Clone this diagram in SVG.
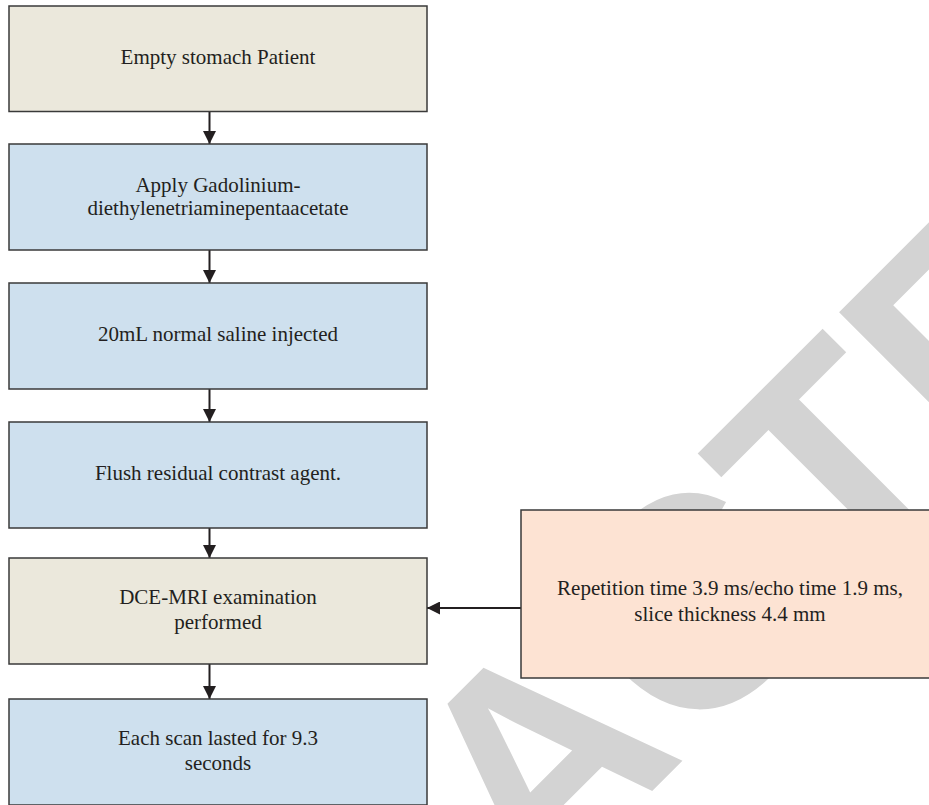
<svg xmlns="http://www.w3.org/2000/svg" width="929" height="805" viewBox="0 0 929 805">
<style>
.box{stroke:#3a3a3a;stroke-width:1.5}
.beige{fill:#ebe8dc}
.blue{fill:#cee0ee}
.peach{fill:#fde3d3}
.lbl{font-family:"Liberation Serif","Times New Roman",serif;font-size:21px;fill:#231f20;text-anchor:middle}
.wm{font-family:"Liberation Sans",Arial,sans-serif;font-weight:bold;font-size:300px;fill:#d3d3d3}
.conn{stroke:#231f20;stroke-width:2;fill:none}
</style>
<defs>
<marker id="ah" viewBox="0 0 13 13" refX="13" refY="6.5" markerWidth="13" markerHeight="13" markerUnits="userSpaceOnUse" orient="auto">
<path d="M0,0 L13,6.5 L0,13 Z" fill="#231f20"/>
</marker>
</defs>
<rect width="929" height="805" fill="#ffffff"/>
<g id="watermark">
<text class="wm" x="0" y="0" transform="translate(-42.6,1485.8) rotate(-45)">RETRACTED</text>
</g>
<g id="connectors">
<line class="conn" x1="209.5" y1="111.5" x2="209.5" y2="144" marker-end="url(#ah)"/>
<line class="conn" x1="209.5" y1="250" x2="209.5" y2="283" marker-end="url(#ah)"/>
<line class="conn" x1="209.5" y1="389" x2="209.5" y2="422" marker-end="url(#ah)"/>
<line class="conn" x1="209.5" y1="528" x2="209.5" y2="558" marker-end="url(#ah)"/>
<line class="conn" x1="209.5" y1="664" x2="209.5" y2="699" marker-end="url(#ah)"/>
<line class="conn" x1="521" y1="608" x2="427" y2="608" marker-end="url(#ah)"/>
</g>
<g id="n1">
<rect class="box beige" x="9" y="6" width="418" height="105.5"/>
<text class="lbl" x="218" y="64.3">Empty stomach Patient</text>
</g>
<g id="n2">
<rect class="box blue" x="9" y="144" width="418" height="106"/>
<text class="lbl" x="218" y="192">Apply Gadolinium-</text>
<text class="lbl" x="218" y="215">diethylenetriaminepentaacetate</text>
</g>
<g id="n3">
<rect class="box blue" x="9" y="283" width="418" height="106"/>
<text class="lbl" x="218" y="341">20mL normal saline injected</text>
</g>
<g id="n4">
<rect class="box blue" x="9" y="422" width="418" height="106"/>
<text class="lbl" x="218" y="480">Flush residual contrast agent.</text>
</g>
<g id="n5">
<rect class="box beige" x="9" y="558" width="418" height="106"/>
<text class="lbl" x="218" y="604">DCE-MRI examination</text>
<text class="lbl" x="218" y="629">performed</text>
</g>
<g id="n6">
<rect class="box blue" x="9" y="699" width="418" height="106"/>
<text class="lbl" x="218" y="745">Each scan lasted for 9.3</text>
<text class="lbl" x="218" y="770">seconds</text>
</g>
<g id="n7">
<rect class="box peach" x="521" y="510" width="418" height="168"/>
<text class="lbl" x="730" y="595">Repetition time 3.9 ms/echo time 1.9 ms,</text>
<text class="lbl" x="730" y="621">slice thickness 4.4 mm</text>
</g>
</svg>
